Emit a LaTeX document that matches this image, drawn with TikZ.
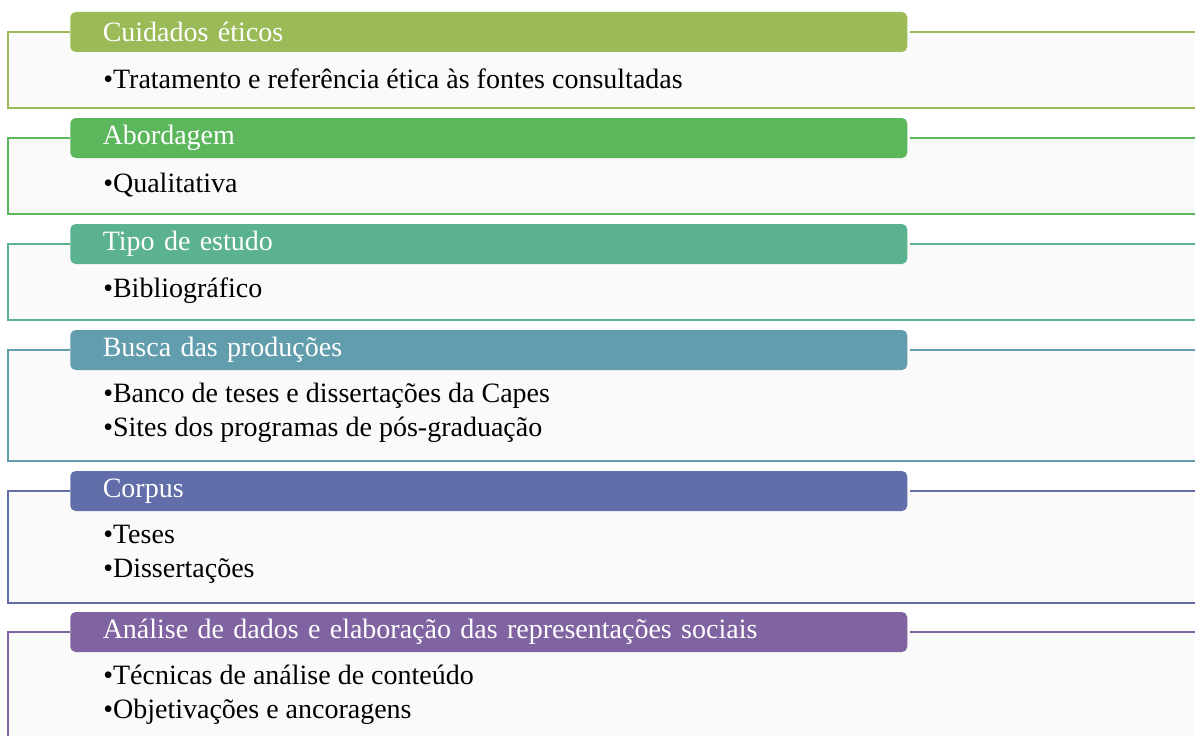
\documentclass[tikz,border=0pt]{standalone}
\usepackage{fontspec}
\setmainfont{Liberation Serif}
\definecolor{stolive}{RGB}{155,187,89}
\definecolor{stgreen}{RGB}{92,182,92}
\definecolor{stmint}{RGB}{91,178,143}
\definecolor{stteal}{RGB}{97,157,172}
\definecolor{stblue}{RGB}{97,110,170}
\definecolor{stpurple}{RGB}{128,100,162}
\usetikzlibrary{positioning,calc}

\begin{document}
\begin{tikzpicture}[x=0.75pt, y=-0.75pt,
    headbox/.style={rectangle, rounded corners=4pt, fill=#1, draw=none,
                    minimum width=627.75pt, minimum height=30pt, anchor=west,
                    inner xsep=24pt, text width=579pt, align=left, text=white,
                    font=\fontsize{21}{24}\selectfont},
    itemtext/.style={anchor=west, align=left, inner sep=0pt,
                     font=\fontsize{21}{25.5}\selectfont},
    frameline/.style={line width=1.6pt, draw=#1},
    framefill/.style={fill=black!2, draw=none}
  ]
    \useasboundingbox (0,0) rectangle (1195,735);
    \clip (0,0) rectangle (1195,735);

    % Step 1: ethical care
    \fill[framefill] (8,32) rectangle (1195,108);
    \node[headbox=stolive] (h1) at (70,32) {Cuidados éticos};
    \node[itemtext] (b1) at (103,79) {•Tratamento e referência ética às fontes consultadas};
    \draw[frameline=stolive] (h1.west) -- (8,32) -- (8,108) -- (1195,108);
    \draw[frameline=stolive] ([xshift=2pt]h1.east) -- (1195,32);

    % Step 2: approach
    \fill[framefill] (8,138) rectangle (1195,214);
    \node[headbox=stgreen] (h2) at (70,138) {Abordagem};
    \node[itemtext] (b2) at (103,185) {•Qualitativa};
    \draw[frameline=stgreen] (h2.west) -- (8,138) -- (8,214) -- (1195,214);
    \draw[frameline=stgreen] ([xshift=2pt]h2.east) -- (1195,138);

    % Step 3: type of study
    \fill[framefill] (8,244) rectangle (1195,320);
    \node[headbox=stmint] (h3) at (70,244) {Tipo de estudo};
    \node[itemtext] (b3) at (103,291) {•Bibliográfico};
    \draw[frameline=stmint] (h3.west) -- (8,244) -- (8,320) -- (1195,320);
    \draw[frameline=stmint] ([xshift=2pt]h3.east) -- (1195,244);

    % Step 4: search
    \fill[framefill] (8,350) rectangle (1195,461);
    \node[headbox=stteal] (h4) at (70,350) {Busca das produções};
    \node[itemtext] (b4) at (103,413) {•Banco de teses e dissertações da Capes\\•Sites dos programas de pós-graduação};
    \draw[frameline=stteal] (h4.west) -- (8,350) -- (8,461) -- (1195,461);
    \draw[frameline=stteal] ([xshift=2pt]h4.east) -- (1195,350);

    % Step 5: corpus
    \fill[framefill] (8,491) rectangle (1195,603);
    \node[headbox=stblue] (h5) at (70,491) {Corpus};
    \node[itemtext] (b5) at (103,554) {•Teses\\•Dissertações};
    \draw[frameline=stblue] (h5.west) -- (8,491) -- (8,603) -- (1195,603);
    \draw[frameline=stblue] ([xshift=2pt]h5.east) -- (1195,491);

    % Step 6: analysis
    \fill[framefill] (8,632) rectangle (1195,745);
    \node[headbox=stpurple] (h6) at (70,632) {Análise de dados e elaboração das representações sociais};
    \node[itemtext] (b6) at (103,695) {•Técnicas de análise de conteúdo\\•Objetivações e ancoragens};
    \draw[frameline=stpurple] (h6.west) -- (8,632) -- (8,745) -- (1195,745);
    \draw[frameline=stpurple] ([xshift=2pt]h6.east) -- (1195,632);
  \end{tikzpicture}
\end{document}
